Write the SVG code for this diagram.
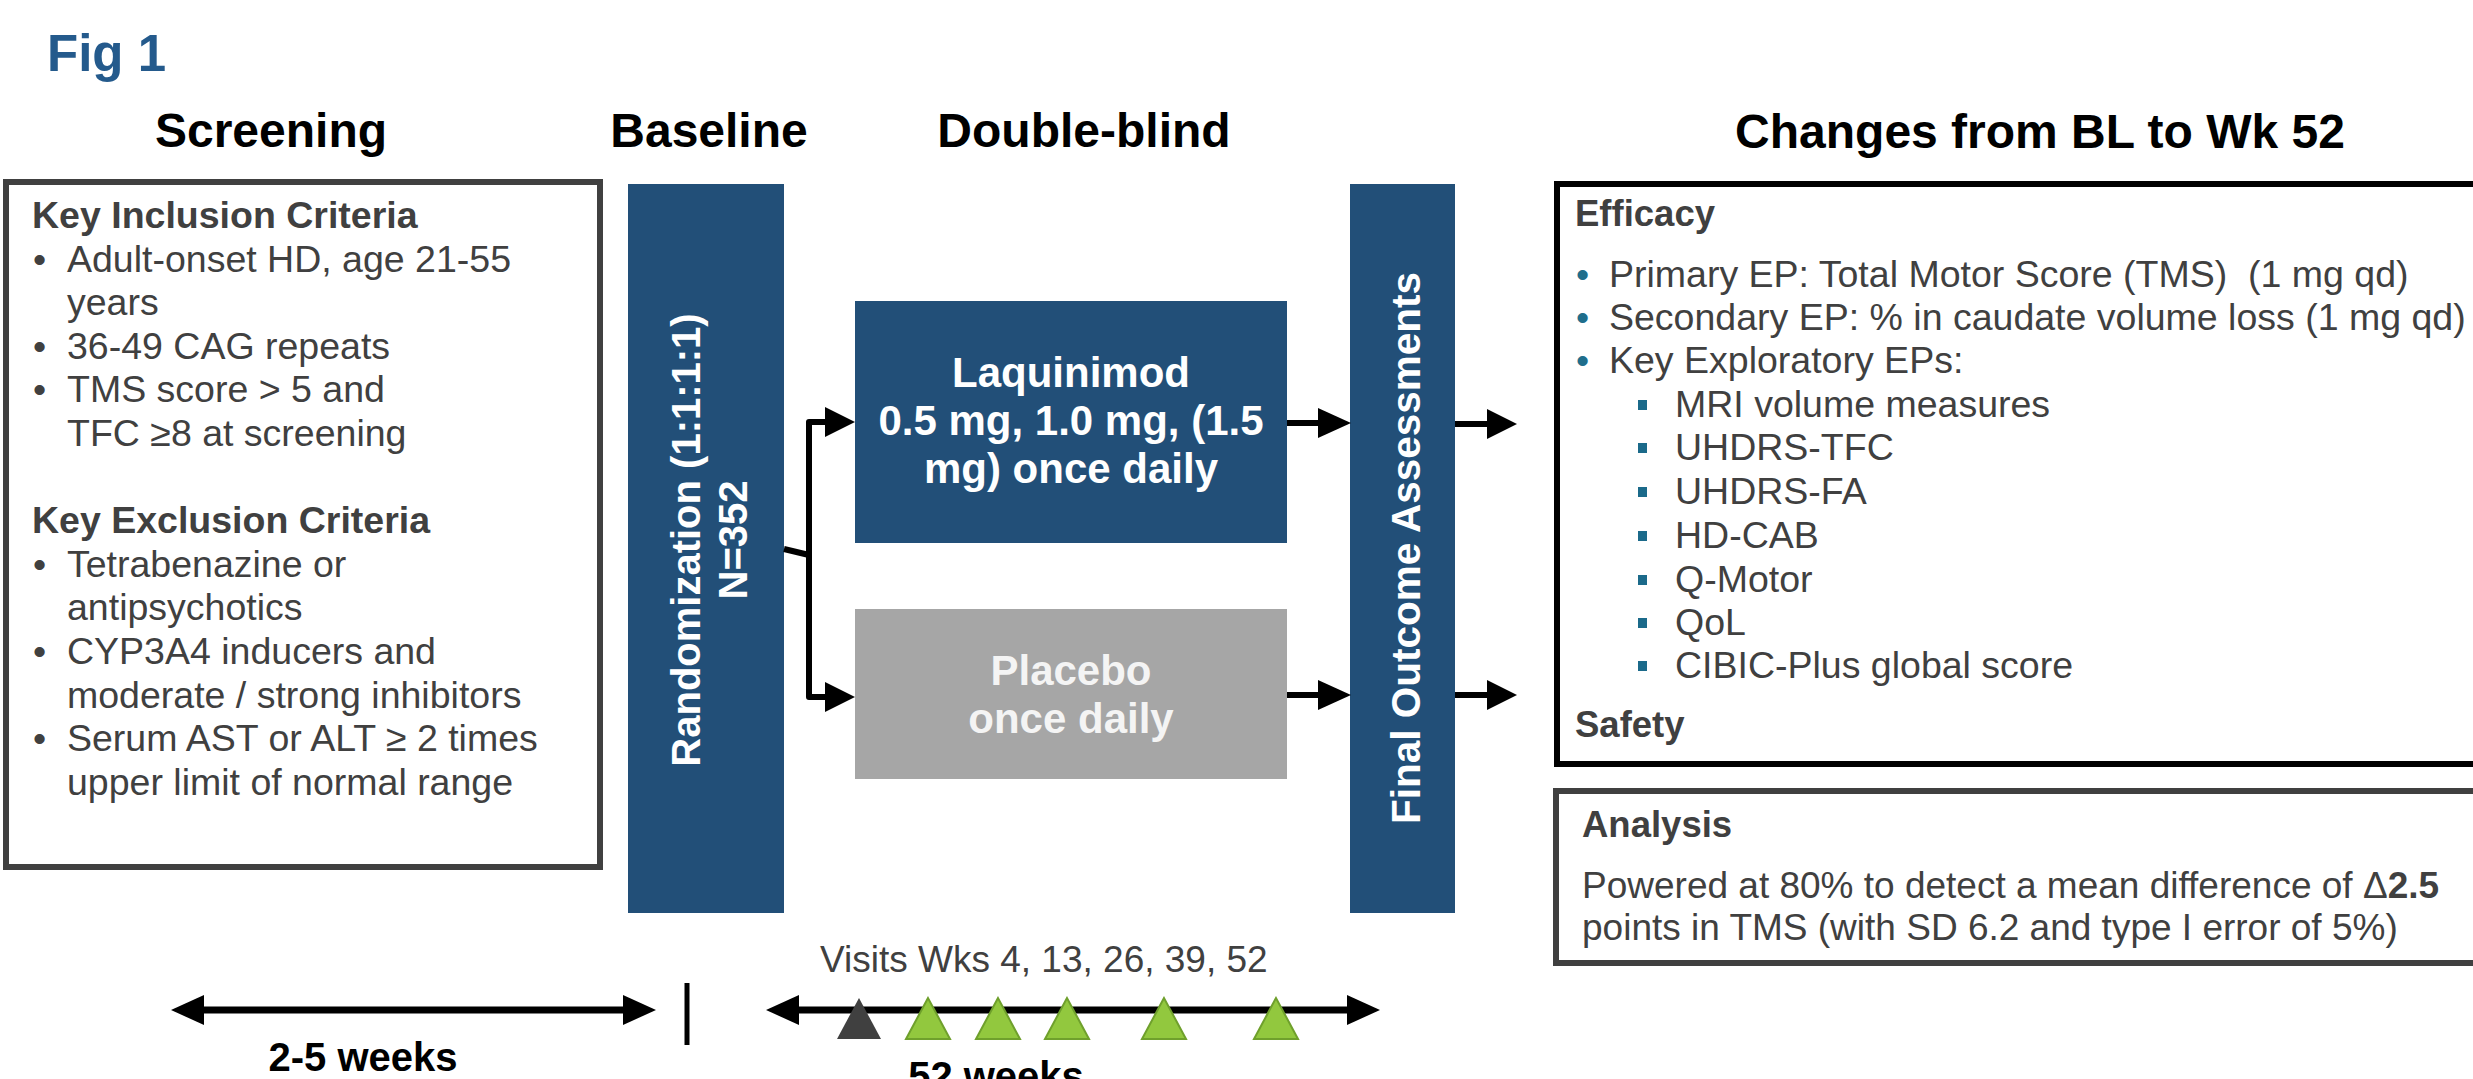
<svg xmlns="http://www.w3.org/2000/svg" width="2473" height="1079" viewBox="0 0 2473 1079">
<style>
text{font-family:"Liberation Sans",Arial,Helvetica,sans-serif;}
.hdr{font-size:48px;font-weight:bold;fill:#000;text-anchor:middle;}
.lb{font-size:37.5px;fill:#404040;}
.lbh{font-size:37.5px;fill:#404040;font-weight:bold;}
.rb{font-size:37px;fill:#404040;}
.eb{font-size:37.5px;fill:#404040;}
.rbh{font-size:36.5px;fill:#404040;font-weight:bold;}
.dot{fill:#1F6E8C;}
.sq{fill:#1B6A8A;}
.bar{fill:#224F78;}
.wt{fill:#fff;font-weight:bold;text-anchor:middle;}
.conn{stroke:#000;stroke-width:6;fill:none;stroke-linejoin:round;}
.tl{stroke:#000;stroke-width:7;fill:none;}
.tri{fill:#92C83E;stroke:#6FA02C;stroke-width:2;}
</style>
<defs>
<marker id="ah" viewBox="0 0 30 30" markerWidth="30" markerHeight="30" refX="0" refY="15" orient="auto-start-reverse" markerUnits="userSpaceOnUse">
<path d="M0,0 L30,15 L0,30 Z" fill="#000"/>
</marker>
<marker id="ah2" viewBox="0 0 33 30" markerWidth="33" markerHeight="30" refX="0" refY="15" orient="auto-start-reverse" markerUnits="userSpaceOnUse">
<path d="M0,0 L33,15 L0,30 Z" fill="#000"/>
</marker>
</defs>
<rect width="2473" height="1079" fill="#fff"/>

<g id="title">
<text x="47" y="71" font-size="51" font-weight="bold" fill="#245A8C">Fig 1</text>
</g>

<g id="headers">
<text class="hdr" x="271" y="147">Screening</text>
<text class="hdr" x="709" y="147">Baseline</text>
<text class="hdr" x="1084" y="147">Double-blind</text>
<text class="hdr" x="2040" y="148">Changes from BL to Wk 52</text>
</g>

<g id="screening">
<rect x="6" y="182" width="594" height="685" fill="#fff" stroke="#404040" stroke-width="6"/>
<text class="lbh" x="32" y="228">Key Inclusion Criteria</text>
<text class="lb" x="33" y="272">•</text><text class="lb" x="67" y="272">Adult-onset HD, age 21-55</text>
<text class="lb" x="67" y="315">years</text>
<text class="lb" x="33" y="359">•</text><text class="lb" x="67" y="359">36-49 CAG repeats</text>
<text class="lb" x="33" y="402">•</text><text class="lb" x="67" y="402">TMS score &gt; 5 and</text>
<text class="lb" x="67" y="446">TFC ≥8 at screening</text>
<text class="lbh" x="32" y="533">Key Exclusion Criteria</text>
<text class="lb" x="33" y="577">•</text><text class="lb" x="67" y="577">Tetrabenazine or</text>
<text class="lb" x="67" y="620">antipsychotics</text>
<text class="lb" x="33" y="664">•</text><text class="lb" x="67" y="664">CYP3A4 inducers and</text>
<text class="lb" x="67" y="708">moderate / strong inhibitors</text>
<text class="lb" x="33" y="751">•</text><text class="lb" x="67" y="751">Serum AST or ALT ≥ 2 times</text>
<text class="lb" x="67" y="795">upper limit of normal range</text>
</g>

<g id="randomization">
<rect class="bar" x="628" y="184" width="156" height="729"/>
<text class="wt" font-size="40" transform="translate(700,540) rotate(-90)">Randomization (1:1:1:1)</text>
<text class="wt" font-size="40" transform="translate(747,540) rotate(-90)">N=352</text>
</g>

<g id="laquinimod">
<rect class="bar" x="855" y="301" width="432" height="242"/>
<text class="wt" font-size="42" x="1071" y="387">Laquinimod</text>
<text class="wt" font-size="42" x="1071" y="435">0.5 mg, 1.0 mg, (1.5</text>
<text class="wt" font-size="42" x="1071" y="483">mg) once daily</text>
</g>

<g id="placebo">
<rect x="855" y="609" width="432" height="170" fill="#A6A6A6"/>
<text class="wt" font-size="42" x="1071" y="685" style="fill:#F4F4F4">Placebo</text>
<text class="wt" font-size="42" x="1071" y="733" style="fill:#F4F4F4">once daily</text>
</g>

<g id="final-outcome">
<rect class="bar" x="1350" y="184" width="105" height="729"/>
<text class="wt" font-size="40.5" transform="translate(1420,548) rotate(-90)">Final Outcome Assessments</text>
</g>

<g id="efficacy">
<rect x="1557" y="184" width="940" height="580" fill="#fff" stroke="#000" stroke-width="6"/>
<text class="rbh" x="1575" y="226">Efficacy</text>
<text class="eb dot" x="1576" y="287">•</text><text class="eb" x="1609" y="287">Primary EP: Total Motor Score (TMS)&#160; (1 mg qd)</text>
<text class="eb dot" x="1576" y="330">•</text><text class="eb" x="1609" y="330">Secondary EP: % in caudate volume loss (1 mg qd)</text>
<text class="eb dot" x="1576" y="373">•</text><text class="eb" x="1609" y="373">Key Exploratory EPs:</text>
<rect class="sq" x="1638" y="400" width="9" height="10"/><text class="eb" x="1675" y="417">MRI volume measures</text>
<rect class="sq" x="1638" y="443" width="9" height="10"/><text class="eb" x="1675" y="460">UHDRS-TFC</text>
<rect class="sq" x="1638" y="487" width="9" height="10"/><text class="eb" x="1675" y="504">UHDRS-FA</text>
<rect class="sq" x="1638" y="531" width="9" height="10"/><text class="eb" x="1675" y="548">HD-CAB</text>
<rect class="sq" x="1638" y="575" width="9" height="10"/><text class="eb" x="1675" y="592">Q-Motor</text>
<rect class="sq" x="1638" y="618" width="9" height="10"/><text class="eb" x="1675" y="635">QoL</text>
<rect class="sq" x="1638" y="661" width="9" height="10"/><text class="eb" x="1675" y="678">CIBIC-Plus global score</text>
<text class="rbh" x="1575" y="737">Safety</text>
</g>

<g id="analysis">
<rect x="1556" y="791" width="940" height="172" fill="#fff" stroke="#404040" stroke-width="6"/>
<text class="rbh" x="1582" y="837">Analysis</text>
<text class="rb" x="1582" y="898">Powered at 80% to detect a mean difference of Δ<tspan font-weight="bold">2.5</tspan></text>
<text class="rb" x="1582" y="940">points in TMS (with SD 6.2 and type I error of 5%)</text>
</g>

<g id="connectors">
<path class="conn" d="M784 549 L809 555"/>
<path class="conn" d="M825 422 H809 V697 H825" marker-start="url(#ah)" marker-end="url(#ah)"/>
<line class="conn" x1="1287" y1="423" x2="1318" y2="423" marker-end="url(#ah2)"/>
<line class="conn" x1="1287" y1="695" x2="1318" y2="695" marker-end="url(#ah2)"/>
<line class="conn" x1="1455" y1="424" x2="1487" y2="424" marker-end="url(#ah)"/>
<line class="conn" x1="1455" y1="695" x2="1487" y2="695" marker-end="url(#ah)"/>
</g>

<g id="timeline">
<line class="tl" x1="204" y1="1010" x2="623" y2="1010" marker-start="url(#ah2)" marker-end="url(#ah2)"/>
<line x1="687" y1="983" x2="687" y2="1045" stroke="#000" stroke-width="5"/>
<text x="363" y="1071" font-size="40" font-weight="bold" text-anchor="middle">2-5 weeks</text>
<text x="820" y="972" font-size="37" fill="#404040">Visits Wks 4, 13, 26, 39, 52</text>
<line class="tl" x1="799" y1="1010" x2="1347" y2="1010" marker-start="url(#ah2)" marker-end="url(#ah2)"/>
<polygon points="859,998 837,1039 881,1039" fill="#404040"/>
<polygon class="tri" points="928,998 906,1039 950,1039"/>
<polygon class="tri" points="998,998 976,1039 1020,1039"/>
<polygon class="tri" points="1067,998 1045,1039 1089,1039"/>
<polygon class="tri" points="1164,998 1142,1039 1186,1039"/>
<polygon class="tri" points="1276,998 1254,1039 1298,1039"/>
<text x="996" y="1090" font-size="40" font-weight="bold" text-anchor="middle">52 weeks</text>
</g>
</svg>
